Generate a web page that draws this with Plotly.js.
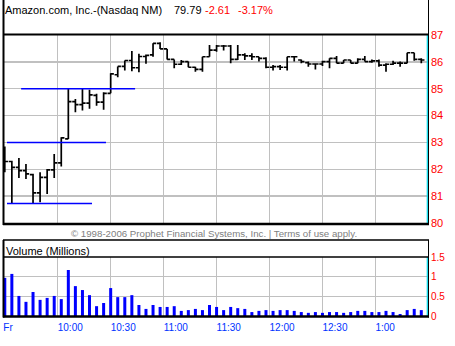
<!DOCTYPE html>
<html>
<head>
<meta charset="utf-8">
<script src="https://cdn.plot.ly/plotly-3.0.1.min.js"></script>
<style>html,body{margin:0;padding:0;background:#fff;}#chart{width:455px;height:346px;}</style>
</head>
<body>
<div id="chart"></div>
<script>
// ---- data ----
const tradeDate = "2006-01-06";
const barTimes = ["09:30","09:34","09:38","09:42","09:46","09:50","09:54","09:58",
  "10:02","10:06","10:10","10:14","10:18","10:22","10:26","10:30","10:34","10:38","10:42","10:46","10:50","10:54","10:58",
  "11:02","11:06","11:10","11:14","11:18","11:22","11:26","11:30","11:34","11:38","11:42","11:46","11:50","11:54","11:58",
  "12:02","12:06","12:10","12:14","12:18","12:22","12:26","12:30","12:34","12:38","12:42","12:46","12:50","12:54","12:58",
  "13:02","13:06","13:10","13:14","13:18","13:22","13:26"];
const openP = [82.07,82.29,82.07,81.95,81.80,81.12,81.70,81.98,82.24,83.13,84.52,84.41,84.46,84.75,84.50,84.83,85.52,85.83,86.05,85.78,86.20,
  86.26,86.69,86.48,86.09,85.91,86.01,85.80,85.72,86.19,86.44,86.59,86.59,86.09,86.26,86.22,86.19,86.13,85.80,85.82,85.80,86.19,86.07,
  85.97,85.92,85.92,86.01,86.13,85.95,86.07,85.95,86.09,86.01,86.04,85.88,85.91,85.95,85.95,86.34,86.09];
const highP = [82.85,82.32,82.42,82.20,81.83,81.89,82.01,82.57,83.19,85.03,84.62,84.99,84.96,84.81,84.87,85.58,85.83,86.05,86.40,86.30,86.27,
  86.69,86.73,86.48,86.09,86.07,86.01,85.82,86.19,86.63,86.63,86.63,86.63,86.63,86.32,86.32,86.19,86.17,85.88,85.88,86.19,86.22,86.09,
  86.01,85.95,86.04,86.13,86.22,86.07,86.07,86.13,86.22,86.09,86.09,85.95,86.04,86.01,86.34,86.34,86.13];
const lowP = [81.89,80.73,81.68,81.64,80.73,80.77,81.08,81.68,82.10,83.13,84.12,84.19,84.25,84.37,84.22,84.83,85.43,85.68,85.65,85.61,85.93,
  86.19,86.48,86.09,85.76,85.88,85.80,85.63,85.63,86.19,86.38,86.42,85.95,86.07,86.07,86.07,86.01,85.76,85.68,85.70,85.68,86.01,85.95,
  85.82,85.72,85.85,85.76,85.95,85.95,85.95,85.95,86.01,85.97,85.82,85.63,85.88,85.82,85.95,86.04,85.95];
const closeP = [82.29,82.07,81.95,81.83,81.12,81.70,81.98,82.24,83.17,84.52,84.41,84.46,84.77,84.50,84.83,85.55,85.83,86.05,85.78,86.20,86.24,
  86.69,86.48,86.09,85.91,86.01,85.80,85.72,86.19,86.44,86.59,86.59,86.09,86.26,86.22,86.19,86.13,85.80,85.82,85.80,86.19,86.19,86.01,
  85.92,85.92,86.01,86.13,85.95,86.07,85.95,86.09,86.01,86.04,85.88,85.91,85.95,85.95,86.34,86.09,86.07];
const volumeM = [0.97,1.07,0.51,0.36,0.61,0.41,0.46,0.51,0.43,1.17,0.76,0.66,0.53,0.25,0.33,0.71,0.48,0.48,0.53,0.28,0.18,0.28,0.23,0.23,
  0.25,0.13,0.15,0.18,0.15,0.28,0.23,0.15,0.23,0.20,0.18,0.10,0.13,0.15,0.13,0.15,0.15,0.13,0.10,0.08,0.10,0.08,0.10,0.10,0.08,0.10,
  0.13,0.13,0.10,0.10,0.13,0.10,0.05,0.15,0.18,0.15];
// user-drawn level lines
const levelValues = [85.0, 83.0, 80.73];
const levelStart = ["09:39:15","09:31:15","09:31:15"];
const levelEnd = ["10:43:50","10:27:20","10:19:25"];
// axis ticks
const xTickTimes = ["09:29:10","10:00","10:30","11:00","11:30","12:00","12:30","13:00"];
const xTickText = ["Fr","10:00","10:30","11:00","11:30","12:00","12:30","1:00"];
const priceTicks = [80,81,82,83,84,85,86,87];
const volTicks = [0,0.5,1,1.5];
const volTickText = ["0","0.5","1","1.5"];
const headerName = "Amazon.com, Inc.-(Nasdaq NM)";
const headerLast = "79.79";
const headerChg = "-2.61";
const headerPct = "-3.17%";
const copyright = "\u00a9 1998-2006 Prophet Financial Systems, Inc. | Terms of use apply.";
const volTitle = "Volume (Millions)";

// ---- layout helpers ----
const W = 455, H = 346, ML = 3, MR = 27, MT = 35, MB = 30;
const PW = W - ML - MR, PH = H - MT - MB;
const px = x => (x - ML) / PW;
const py = y => (H - MB - y) / PH;
const ts = t => tradeDate + " " + t;

const xs = barTimes.map(ts);
const FONT = "Liberation Sans, Arial, sans-serif";

const traces = [
  {type: "bar", x: xs, y: volumeM, xaxis: "x", yaxis: "y2",
   width: 102000, marker: {color: "#0000ff", line: {width: 0}}, hoverinfo: "skip"},
  {type: "ohlc", x: xs, open: openP, high: highP, low: lowP, close: closeP,
   xaxis: "x", yaxis: "y", tickwidth: 0.45,
   increasing: {line: {color: "#000000", width: 1.7}},
   decreasing: {line: {color: "#000000", width: 1.7}}, hoverinfo: "skip"}
];
levelValues.forEach((v, i) => {
  traces.push({type: "scatter", mode: "lines", x: [ts(levelStart[i]), ts(levelEnd[i])], y: [v, v],
    xaxis: "x", yaxis: "y", line: {color: "#0000ff", width: 1.5}, hoverinfo: "skip"});
});

function hline(y, x0, x1, w, c) {
  return {type: "line", xref: "paper", yref: "paper", x0: px(x0), x1: px(x1), y0: py(y), y1: py(y),
          line: {color: c || "#000", width: w}, layer: "above"};
}
function vline(x, y0, y1, w, c) {
  return {type: "line", xref: "paper", yref: "paper", x0: px(x), x1: px(x), y0: py(y0), y1: py(y1),
          line: {color: c || "#000", width: w}, layer: "above"};
}
const shapes = [
  vline(3.5, 0, 225, 2), vline(3.5, 240, 317.5, 2),
  vline(428.5, 0, 225, 1), vline(428.5, 240, 317.5, 1),
  vline(427.3, 35, 223, 1.2, "#00d8e8"), vline(427.3, 257, 316, 1.2, "#00d8e8"),
  hline(34.5, 3, 429, 2), hline(224, 3, 429, 2.5),
  hline(240, 3, 429, 1.5), hline(257, 3, 429, 1.5), hline(316.5, 3, 429, 2.5)
];

function ann(text, x, y, size, color, xanchor) {
  return {text: text, xref: "paper", yref: "paper", x: px(x), y: py(y), xanchor: xanchor || "left",
          yanchor: "middle", showarrow: false, font: {family: FONT, size: size, color: color}};
}
const annotations = [
  ann(headerName, 3, 10, 11, "#000"),
  ann(headerLast, 172, 10, 11, "#000"),
  ann(headerChg, 203, 10, 11, "#ff0000"),
  ann(headerPct, 236, 10, 11, "#ff0000"),
  ann(copyright, 214, 233, 9.7, "#808080", "center"),
  ann(volTitle, 4, 250.5, 11, "#000")
];

const layout = {
  width: W, height: H, margin: {l: ML, r: MR, t: MT, b: MB, pad: 0},
  paper_bgcolor: "#fff", plot_bgcolor: "#fff", showlegend: false,
  font: {family: FONT, size: 11, color: "#000"},
  xaxis: {type: "date", anchor: "y2", range: [ts("09:28:59"), ts("13:29:48")],
    tickvals: xTickTimes.map(ts), ticktext: xTickText, ticks: "",
    ticklabelposition: "outside right", ticklabelstandoff: 4,
    tickfont: {family: FONT, size: 10, color: "#0033ff"},
    showgrid: true, gridcolor: "#c0c0c0", gridwidth: 1.5, zeroline: false, showline: false,
    rangeslider: {visible: false}, fixedrange: true},
  yaxis: {domain: [py(223), 1], range: [80, 87], side: "right", tickvals: priceTicks, ticks: "",
    tickfont: {family: FONT, size: 11, color: "#ff0000"}, ticklabelstandoff: 2,
    showgrid: true, gridcolor: "#c0c0c0", gridwidth: 1.5, zeroline: false, showline: false, fixedrange: true},
  yaxis2: {domain: [0, py(257)], range: [0, 1.5], side: "right", tickvals: volTicks, ticktext: volTickText, ticks: "",
    tickfont: {family: FONT, size: 10, color: "#ff0000"}, ticklabelstandoff: 2,
    showgrid: true, gridcolor: "#c0c0c0", gridwidth: 1.5, zeroline: false, showline: false, fixedrange: true},
  shapes: shapes, annotations: annotations
};

Plotly.newPlot("chart", traces, layout, {staticPlot: true, displayModeBar: false});
</script>
</body>
</html>
